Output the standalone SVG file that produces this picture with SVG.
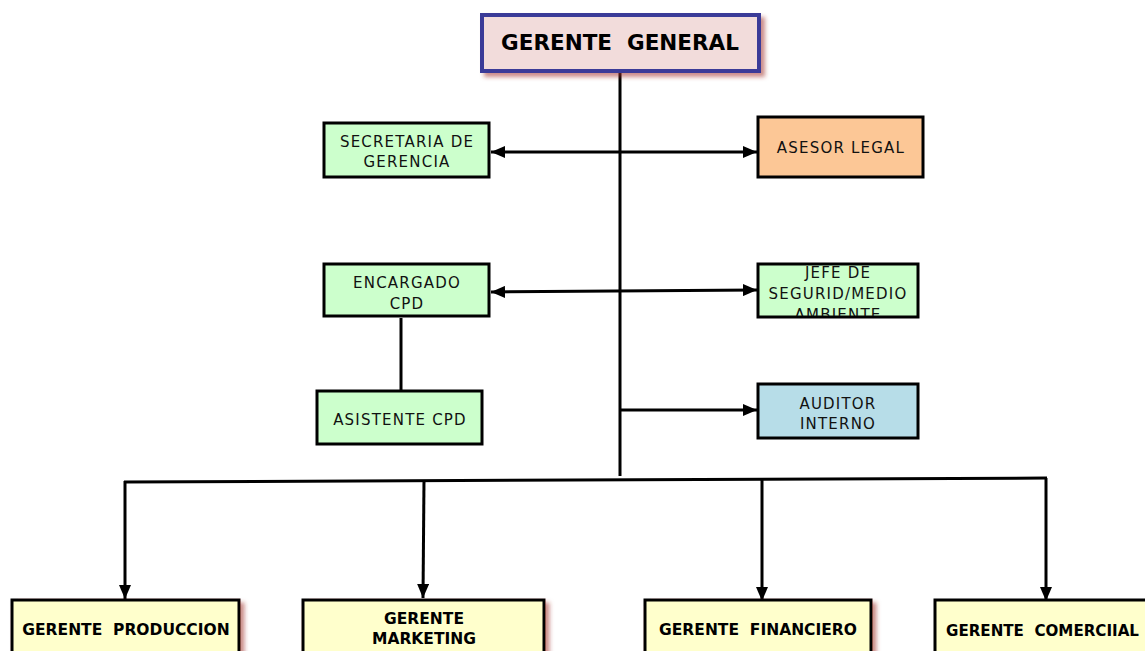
<svg xmlns="http://www.w3.org/2000/svg" width="1145" height="651" viewBox="0 0 1145 651">
<style>
.box{stroke:#000;stroke-width:3}
.green{fill:#ccffcc}
.orange{fill:#fcc796}
.blue{fill:#b7dde8}
.yellow{fill:#ffffcc}
.t{font-family:"DejaVu Sans",Verdana,sans-serif;font-size:15px;letter-spacing:1.2px;fill:#111;text-anchor:middle}
.b{font-family:"DejaVu Sans",Verdana,sans-serif;font-weight:bold;font-size:15.5px;fill:#000;text-anchor:middle}
.ln{stroke:#000;stroke-width:3;fill:none}
</style>
<defs>
<marker id="ah" viewBox="0 0 14 12" refX="14" refY="6" markerWidth="14" markerHeight="12" markerUnits="userSpaceOnUse" orient="auto-start-reverse">
<path d="M0,0 L14,6 L0,12 Z" fill="#000"/>
</marker>
<filter id="sh" x="-10%" y="-20%" width="130%" height="150%">
<feDropShadow dx="4" dy="4" stdDeviation="2" flood-color="#a0302c" flood-opacity="0.55"/>
</filter>
<clipPath id="cj"><rect x="759" y="265" width="158" height="51"/></clipPath>
</defs>
<g id="connectors">
<line class="ln" x1="620" y1="70" x2="620" y2="476"/>
<line class="ln" x1="491" y1="152" x2="757" y2="152" marker-start="url(#ah)" marker-end="url(#ah)"/>
<line class="ln" x1="491" y1="292" x2="757" y2="290" marker-start="url(#ah)" marker-end="url(#ah)"/>
<line class="ln" x1="620" y1="410" x2="757" y2="410" marker-end="url(#ah)"/>
<line class="ln" x1="401" y1="318" x2="401" y2="390"/>
<line class="ln" x1="124" y1="482" x2="1047" y2="478"/>
<line class="ln" x1="125" y1="481" x2="125" y2="599" marker-end="url(#ah)"/>
<line class="ln" x1="424" y1="480" x2="423" y2="598" marker-end="url(#ah)"/>
<line class="ln" x1="762" y1="479" x2="762" y2="601" marker-end="url(#ah)"/>
<line class="ln" x1="1046" y1="478" x2="1046" y2="601" marker-end="url(#ah)"/>
</g>
<g id="gerente-general">
<rect x="482" y="15" width="277" height="56" fill="#f2dcdb" stroke="#3b3a98" stroke-width="4" filter="url(#sh)"/>
<text x="620" y="50" class="b" style="font-size:21.5px" xml:space="preserve">GERENTE  GENERAL</text>
</g>
<g id="secretaria">
<rect class="box green" x="324" y="123" width="165" height="54"/>
<text class="t" x="407" y="147">SECRETARIA DE</text>
<text class="t" x="407" y="167">GERENCIA</text>
</g>
<g id="asesor-legal">
<rect class="box orange" x="758" y="117" width="165" height="60"/>
<text class="t" x="841" y="153">ASESOR LEGAL</text>
</g>
<g id="encargado-cpd">
<rect class="box green" x="324" y="264" width="165" height="52"/>
<text class="t" x="407" y="288">ENCARGADO</text>
<text class="t" x="407" y="309">CPD</text>
</g>
<g id="jefe-seguridad">
<rect class="box green" x="758" y="264" width="160" height="53"/>
<g clip-path="url(#cj)">
<text class="t" x="838" y="278">JEFE DE</text>
<text class="t" x="838" y="299">SEGURID/MEDIO</text>
<text class="t" x="838" y="320">AMBIENTE</text>
</g>
</g>
<g id="asistente-cpd">
<rect class="box green" x="317" y="391" width="165" height="53"/>
<text class="t" x="400" y="425">ASISTENTE CPD</text>
</g>
<g id="auditor-interno">
<rect class="box blue" x="758" y="384" width="160" height="54"/>
<text class="t" x="838" y="409">AUDITOR</text>
<text class="t" x="838" y="429">INTERNO</text>
</g>
<g id="gerente-produccion">
<rect class="box yellow" x="12" y="600" width="227" height="60" filter="url(#sh)"/>
<text class="b" x="126" y="635" xml:space="preserve">GERENTE  PRODUCCION</text>
</g>
<g id="gerente-marketing">
<rect class="box yellow" x="303" y="600" width="241" height="60" filter="url(#sh)"/>
<text class="b" x="424" y="624">GERENTE</text>
<text class="b" x="424" y="644">MARKETING</text>
</g>
<g id="gerente-financiero">
<rect class="box yellow" x="645" y="600" width="226" height="60" filter="url(#sh)"/>
<text class="b" x="758" y="635" xml:space="preserve">GERENTE  FINANCIERO</text>
</g>
<g id="gerente-comercial">
<rect class="box yellow" x="935" y="600" width="220" height="60"/>
<text class="b" x="946" y="636" style="text-anchor:start" textLength="193" lengthAdjust="spacingAndGlyphs" xml:space="preserve">GERENTE  COMERCIIAL</text>
</g>
</svg>
